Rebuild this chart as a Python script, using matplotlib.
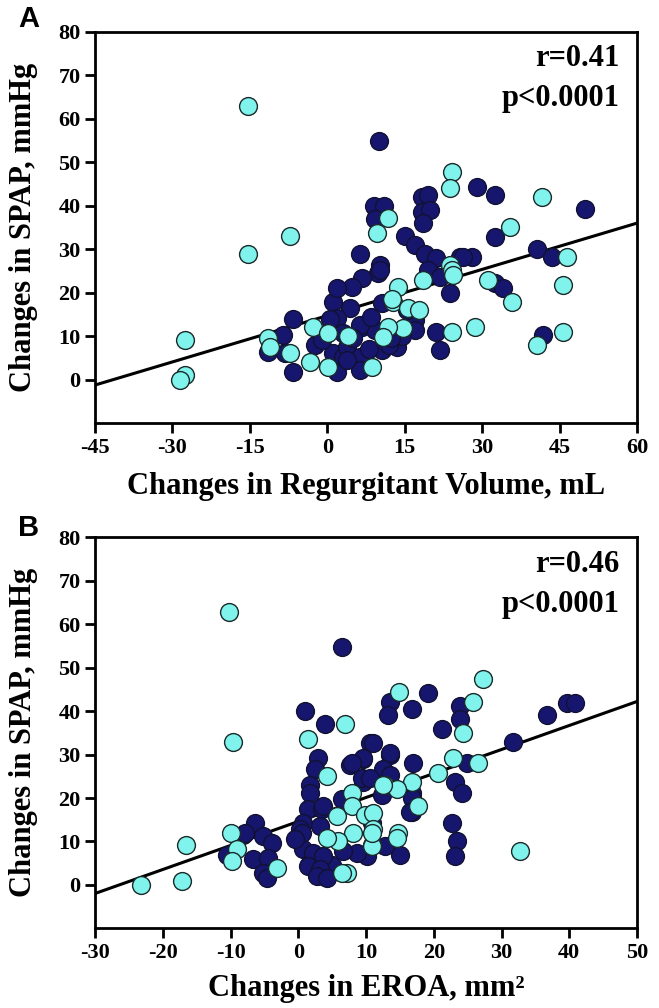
import numpy as np
import matplotlib
matplotlib.use("Agg")
import matplotlib.pyplot as plt

plt.rcParams['font.family'] = ['Liberation Serif', 'DejaVu Serif']
plt.rcParams['font.weight'] = 'bold'
plt.rcParams['axes.unicode_minus'] = False

NAVY = '#16166e'
CYAN = '#7ff3ec'

# Panel A: changes in regurgitant volume (mL) vs changes in SPAP (mmHg)
a_navy_x = [10, 9, 11, 9.3, 18.3, 19.5, 18.3, 19.9, 18.5, 15.1, 17, 18.9, 21, 25.7, 28, 32.5,
            6.3, 10.2, 9.8, 6.7, 4.8, 19.5, 21.8, 23.8, 32.5, 29, 32.5, 50, 40.6, 43.5, 34,
            41.8, 21, 21.8, 10.6, 17, 17, 13.5, 4.4, 6.7, 9.3, 10.6, 1.1, 1.9, -6.6, -8.6,
            -11.5, -8.2, -6.6, -2.4, 1.1, 1.9, 3, 3, 3.8, 6.3, 6.3, 6.3, 3.8, 12, 14.5, 8,
            5, 0.5, 1.9, -1, 10.2, 26.3, 12.4, 15.5, 8.5]
a_navy_y = [55, 40, 40, 37, 42, 42.5, 38.6, 39, 36, 33, 31, 29, 28, 28.2, 28.2, 32.8,
            29, 26.4, 24.5, 23.4, 21.3, 25.2, 23.6, 20, 22.2, 44.3, 42.5, 39.2, 30, 28.2, 21,
            10.2, 11, 6.8, 17.6, 13.7, 11.4, 7.5, 16.5, 12, 11.4, 6.8, 17.8, 14.1, 14, 10.2,
            6.3, 6.1, 1.7, 8, 6, 1.7, 10.7, 5.2, 7.5, 12.5, 5.2, 2.2, 4.5, 8, 10, 7,
            9.5, 14, 21, 9, 25.2, 28.2, 9.5, 16, 14.5]
a_cyan_x = [-15.4, -7.2, -15.4, -27.6, -27.6, -28.5, 9.6, -2.8, 0.1, -11.5, -11.2, -7.2,
            -3.3, 0.1, 8.7, 24.2, 23.8, 11.8, 18.5, 23.8, 24.2, 24.4, 31.1, 13.7, 12.7,
            15.6, 17.8, 14.7, 11.8, 10.8, 24.2, 28.6, 41.6, 46.4, 45.7, 35.8, 35.4, 40.6,
            45.7, 4, 12.5]
a_cyan_y = [63, 33, 29, 9, 1, 0, 33.7, 12.1, 10.7, 9.5, 7.5, 6.1,
            4, 2.9, 2.9, 47.8, 44, 37.2, 23, 26.4, 25.2, 24, 23, 21.3, 17.8,
            16.5, 16, 11.8, 12.1, 9.8, 11, 12.1, 42, 28.2, 21.8, 17.8, 35.1, 8,
            11, 10, 18.5]
a_fit = (14.7, 0.355)   # intercept, slope

# Panel B: changes in EROA (mm2) vs changes in SPAP (mmHg)
b_navy_x = [6.5, 1.0, 4.0, 2.9, 2.5, 1.7, 1.7, 1.4, 0.7, 0.3, 0.7, 1.7, 3.2, 3.7, 5.0,
            3.5, 7.6, 9.6, 10.6, 6.5, 9.6, -8.2, -6.4, -5.2, -3.9, -10.5, -6.7, -4.5,
            -5.2, -4.6, 10.1, 13.5, 13.2, 19.2, 16.8, 23.9, 23.9, 21.2, 36.7, 39.7, 40.8,
            31.7, 24.9, 23.1, 24.2, 22.7, 23.4, 23.1, 16.9, 16.8, 16.8, 13.5, 11.0, 12.5,
            15.0, 12.8, 13.5, 9.6, 12.5, 9.4, 10.6, 13.5, 12.4, 16.8, 16.5, 10.9, 8.7,
            2.2, 3.7, 1.4, 3.2, 2.8, 4.2, 6.6, 7.9, 3.7, 0.6, 3.2, -0.5, -7.9]
b_navy_y = [54.7, 40, 37, 29.2, 26.6, 23.1, 21.1, 17.4, 14.2, 12.8, 8.2, 5, 5.9, 2, 4.7,
            17.4, 27.7, 28.9, 32.6, 19.7, 23.8, 11.6, 14.2, 11.2, 9.6, 7, 5.9, 6.1,
            2.7, 1.5, 6.6, 42.2, 39.2, 44.1, 40.4, 41.1, 38.1, 36, 39.2, 41.8, 41.8,
            32.8, 28, 23.8, 21.1, 14.2, 10, 6.6, 28, 21.1, 16.9, 30, 32.6, 25.7,
            7, 8.9, 30.3, 29.2, 26.6, 24.6, 24.6, 25.4, 20.8, 19.9, 16.9, 14.2, 7.3,
            7.3, 6.6, 4.3, 3.6, 2, 1.5, 7.7, 28, 18.1, 11.9, 13.5, 10.5, 11.9]
b_cyan_x = [-10.2, -9.6, 6.9, 1.4, 4.2, 7.2, 6.5, 5.7, 7.9, 7.9, 9.9, 8.1, 5.9, 4.2,
            10.9, -10.0, -9.0, -9.8, -3.1, -16.6, -17.2, -23.2, 27.3, 14.9, 25.8, 24.3,
            32.7, 26.5, 22.8, 20.6, 16.8, 17.7, 12.8, 14.6, 11.0, 11.0, 14.7, 14.6, 10.9,
            10.9, 12.5]
b_cyan_y = [62.9, 32.8, 37, 33.7, 25, 2.7, 2.7, 15.8, 21.1, 18.1, 16.2, 11.9, 10, 10.7,
            9.3, 11.9, 8.2, 5.4, 3.8, 9.3, 0.8, 0, 47.5, 44.5, 42, 34.9,
            7.7, 28, 29.2, 25.7, 23.8, 18.1, 23.1, 22, 16.5, 12.8, 11.9, 10.7, 8.9,
            11.9, 23.1]
b_fit = (14.6, 0.5525)

fig = plt.figure(figsize=(6.59, 10.08), dpi=100)
axA = fig.add_axes([0.1442, 0.5804, 0.8225, 0.3879])
axB = fig.add_axes([0.1442, 0.0790, 0.8225, 0.3879])

panels = [
    (axA, a_navy_x, a_navy_y, a_cyan_x, a_cyan_y, a_fit, (-45, 60), np.arange(-45, 61, 15),
     'Changes in Regurgitant Volume, mL', 'r=0.41', 'A', 0.981, -0.125),
    (axB, b_navy_x, b_navy_y, b_cyan_x, b_cyan_y, b_fit, (-30, 50), np.arange(-30, 51, 10),
     'Changes in EROA, mm²', 'r=0.46', 'B', 0.476, -0.117),
]

for ax, nx, ny, cx, cy, fit, xlim, xticks, xlabel, rtxt, letter, ly, xl_y in panels:
    ax.scatter(nx, ny, s=165, c=NAVY, edgecolors='#111133', linewidths=1.0, zorder=3)
    ax.scatter(cx, cy, s=165, c=CYAN, edgecolors='#1a2a2a', linewidths=1.0, zorder=3)
    xs = np.array(xlim, dtype=float)
    ax.plot(xs, fit[0] + fit[1] * xs, color='black', lw=2.2, zorder=2)
    ax.set_xlim(xlim)
    ax.set_ylim(-10, 80)
    ax.set_xticks(xticks)
    ax.set_yticks(np.arange(0, 81, 10))
    for sp in ax.spines.values():
        sp.set_linewidth(2)
    ax.tick_params(direction='out', length=7, width=2, labelsize=16)
    for lab in ax.get_xticklabels() + ax.get_yticklabels():
        lab.set_fontweight('bold')
    ax.set_xlabel(xlabel, fontsize=22, fontweight='bold')
    ax.set_ylabel('Changes in SPAP, mmHg', fontsize=22, fontweight='bold')
    ax.xaxis.set_label_coords(0.5, xl_y)
    ax.yaxis.set_label_coords(-0.105, 0.5)
    ax.text(0.967, 0.968, rtxt, transform=ax.transAxes, ha='right', va='top',
            fontsize=22, fontweight='bold')
    ax.text(0.967, 0.866, 'p<0.0001', transform=ax.transAxes, ha='right', va='top',
            fontsize=22, fontweight='bold')
    fig.text(0.043, ly, letter, ha='center', va='center',
             fontsize=21, fontweight='bold', family=['Liberation Sans', 'DejaVu Sans'])

fig.savefig('out.png', dpi=100)
